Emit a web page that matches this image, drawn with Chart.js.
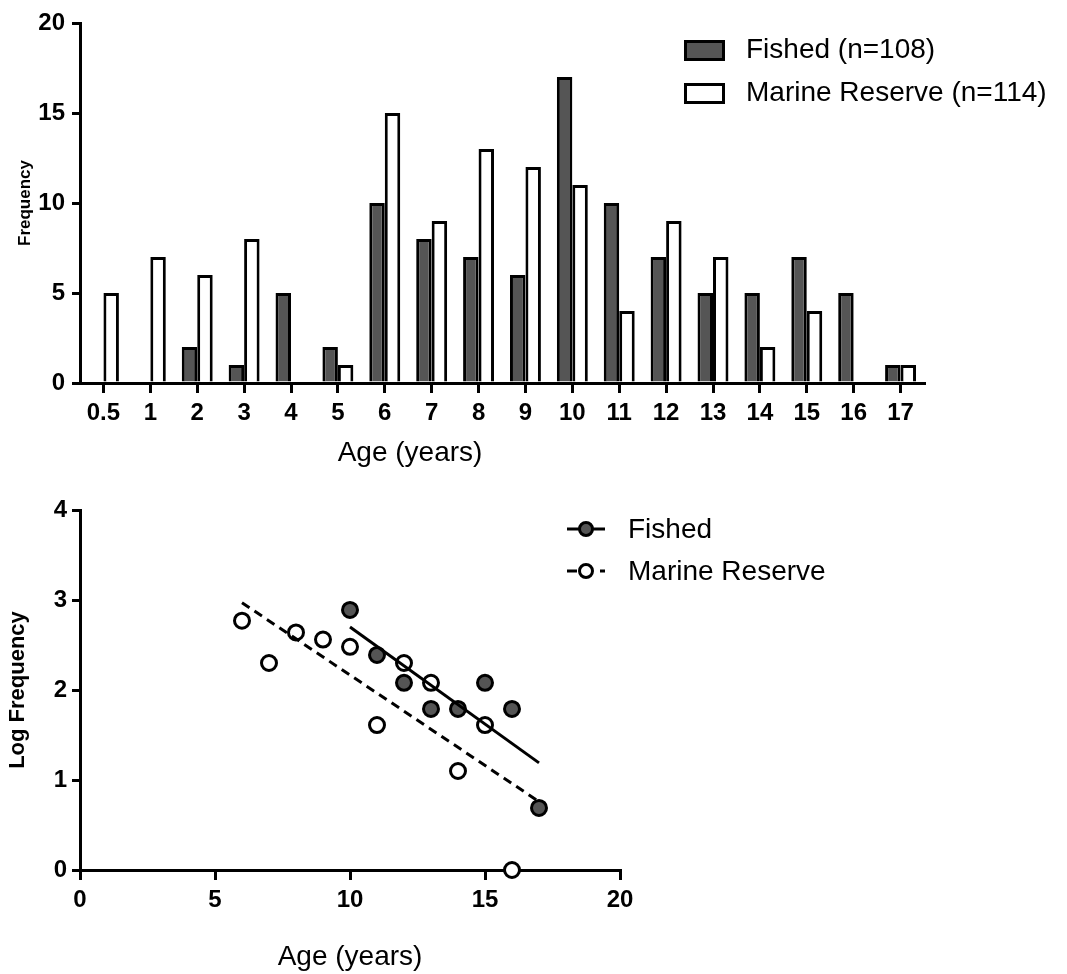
<!DOCTYPE html>
<html><head><meta charset="utf-8">
<script src="https://cdn.jsdelivr.net/npm/chart.js@4"></script>
<style>
html,body{margin:0;padding:0;background:#fff;width:1067px;height:974px;overflow:hidden;}
#top{position:absolute;left:0;top:0;width:1067px;height:480px;}
#bot{position:absolute;left:0;top:480px;width:1067px;height:494px;}
</style></head><body>
<div id="top"><canvas id="c1" width="1067" height="480"></canvas></div>
<div id="bot"><canvas id="c2" width="1067" height="494"></canvas></div>
<script>
// ---- data: histogram of ages ----
const ageLabels = ['0.5','1','2','3','4','5','6','7','8','9','10','11','12','13','14','15','16','17'];
const fishedCounts  = [0,0,2,1,5,2,10,8,7,6,17,10,7,5,5,7,5,1];
const reserveCounts = [5,7,6,8,0,1,15,9,13,12,11,4,9,7,2,4,0,1];
const freqTicks = [0,5,10,15,20];
const barSeriesNames = ['Fished (n=108)','Marine Reserve (n=114)'];

// ---- data: log frequency vs age ----
const fishedAges    = [10,11,12,13,14,15,16,17];
const fishedLogFreq = [2.89,2.39,2.08,1.79,1.79,2.08,1.79,0.69];
const reserveAges    = [6,7,8,9,10,11,12,13,14,15,16];
const reserveLogFreq = [2.77,2.30,2.64,2.56,2.48,1.61,2.30,2.08,1.10,1.61,0];
const fishedFitAges = [10,17];
const fishedFitLog  = [2.70,1.19];
const reserveFitAges = [6,17];
const reserveFitLog  = [2.97,0.76];
const ageTicks = [0,5,10,15,20];
const logTicks = [0,1,2,3,4];
const lineSeriesNames = ['Fished','Marine Reserve'];
const xTitle = 'Age (years)';

const FONT = '"Liberation Sans", Arial, Helvetica, sans-serif';
Chart.defaults.font.family = FONT;
Chart.defaults.color = '#000';

const DARK = '#555555';

function axisStyle(tickLen){
  return {
    grid:{display:true, drawOnChartArea:false, drawTicks:true, tickLength:tickLen, lineWidth:3, color:'#000'},
    border:{display:true, width:3, color:'#000'}
  };
}

// ---------- top chart ----------
const topExtras = {
  id:'topExtras',
  afterDraw(chart){
    const ctx = chart.ctx;
    ctx.save();
    chart.data.datasets.forEach((ds,i)=>{
      const y = 40 + i*43;
      ctx.lineWidth = 3;
      ctx.fillStyle = ds.backgroundColor;
      ctx.strokeStyle = ds.borderColor;
      ctx.fillRect(685.5, y+1.5, 38, 18);
      ctx.strokeRect(685.5, y+1.5, 38, 18);
      ctx.fillStyle = '#000';
      ctx.font = '28px ' + FONT;
      ctx.textAlign = 'left';
      ctx.textBaseline = 'middle';
      ctx.fillText(ds.label, 746, y+10);
    });
    ctx.font = '28px ' + FONT;
    ctx.textAlign = 'center';
    ctx.textBaseline = 'alphabetic';
    ctx.fillText(xTitle, 410, 461);
    ctx.restore();
  }
};

const ax1 = axisStyle(10), ay1 = axisStyle(8);
new Chart(document.getElementById('c1'), {
  type:'bar',
  data:{
    labels: ageLabels,
    datasets:[
      {label:barSeriesNames[0], data:fishedCounts, backgroundColor:DARK, borderColor:'#000', borderWidth:3,
       barPercentage:1.0, categoryPercentage:0.66, borderSkipped:'bottom'},
      {label:barSeriesNames[1], data:reserveCounts, backgroundColor:'#fff', borderColor:'#000', borderWidth:3,
       barPercentage:1.0, categoryPercentage:0.66, borderSkipped:'bottom'}
    ]
  },
  options:{
    responsive:false, devicePixelRatio:1, animation:false,
    layout:{padding:{left:0, right:143, top:23, bottom:0}},
    plugins:{legend:{display:false}, tooltip:{enabled:false}},
    scales:{
      x:{
        type:'category', offset:true,
        grid:Object.assign({}, ax1.grid, {offset:false}),
        border:ax1.border,
        ticks:{font:{size:24, weight:'bold'}, padding:6, maxRotation:0, autoSkip:false},
        afterFit(s){ s.height = 97; }
      },
      y:{
        min:freqTicks[0], max:freqTicks[freqTicks.length-1],
        grid:ay1.grid, border:ay1.border,
        ticks:{stepSize:freqTicks[1]-freqTicks[0], font:{size:24, weight:'bold'}, padding:7},
        title:{display:true, text:'Frequency', font:{size:17, weight:'bold'}, padding:{top:15, bottom:0}},
        afterFit(s){ s.width = 80; }
      }
    }
  },
  plugins:[topExtras]
});

// ---------- bottom chart ----------
const botLegend = {
  id:'botLegend',
  afterDraw(chart){
    const ctx = chart.ctx;
    const ds = chart.data.datasets;
    const pairs = [[ds[0], ds[2]], [ds[1], ds[3]]];
    ctx.save();
    pairs.forEach((p,i)=>{
      const y = 49 + i*42;
      const line = p[0], pt = p[1];
      ctx.strokeStyle = line.borderColor;
      ctx.lineWidth = line.borderWidth;
      ctx.setLineDash(i === 0 ? [] : [10, 23]);
      ctx.beginPath(); ctx.moveTo(567, y); ctx.lineTo(605, y); ctx.stroke();
      ctx.setLineDash([]);
      ctx.beginPath(); ctx.arc(586, y, 6.5, 0, Math.PI*2);
      ctx.fillStyle = pt.backgroundColor; ctx.fill();
      ctx.lineWidth = pt.borderWidth; ctx.strokeStyle = pt.borderColor; ctx.stroke();
      ctx.fillStyle = '#000';
      ctx.font = '28px ' + FONT;
      ctx.textAlign = 'left'; ctx.textBaseline = 'middle';
      ctx.fillText(lineSeriesNames[i], 628, y+1);
    });
    ctx.restore();
  }
};

const toXY = (xs, ys) => xs.map((x,i)=>({x:x, y:ys[i]}));
const ax2 = axisStyle(10), ay2 = axisStyle(8);
new Chart(document.getElementById('c2'), {
  type:'scatter',
  data:{
    datasets:[
      {label:lineSeriesNames[0]+' fit', data:toXY(fishedFitAges, fishedFitLog), showLine:true,
       borderColor:'#000', borderWidth:3, pointRadius:0, fill:false, clip:false},
      {label:lineSeriesNames[1]+' fit', data:toXY(reserveFitAges, reserveFitLog), showLine:true,
       borderColor:'#000', borderWidth:3, borderDash:[9,6], pointRadius:0, fill:false, clip:false},
      {label:lineSeriesNames[0], data:toXY(fishedAges, fishedLogFreq), showLine:false,
       backgroundColor:DARK, borderColor:'#000', borderWidth:3, pointRadius:7.5, clip:false},
      {label:lineSeriesNames[1], data:toXY(reserveAges, reserveLogFreq), showLine:false,
       backgroundColor:'#fff', borderColor:'#000', borderWidth:3, pointRadius:7.5, clip:false}
    ]
  },
  options:{
    responsive:false, devicePixelRatio:1, animation:false,
    layout:{padding:{left:0, right:447, top:30, bottom:0}},
    plugins:{legend:{display:false}, tooltip:{enabled:false}},
    scales:{
      x:{
        type:'linear', min:ageTicks[0], max:ageTicks[ageTicks.length-1],
        grid:ax2.grid, border:ax2.border,
        ticks:{stepSize:ageTicks[1]-ageTicks[0], font:{size:24, weight:'bold'}, padding:6},
        title:{display:true, text:xTitle, font:{size:28}, padding:{top:0, bottom:0}},
        afterFit(s){ s.height = 104; }
      },
      y:{
        type:'linear', min:logTicks[0], max:logTicks[logTicks.length-1],
        grid:ay2.grid, border:ay2.border,
        ticks:{stepSize:logTicks[1]-logTicks[0], font:{size:24, weight:'bold'}, padding:5},
        title:{display:true, text:'Log Frequency', font:{size:22, weight:'bold'}, padding:{top:5, bottom:0}},
        afterFit(s){ s.width = 80; }
      }
    }
  },
  plugins:[botLegend]
});
</script>
</body></html>
